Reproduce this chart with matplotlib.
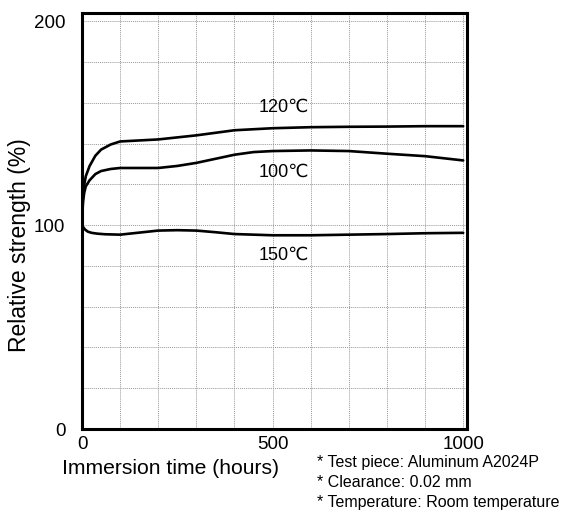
import matplotlib
matplotlib.use("Agg")
import matplotlib.pyplot as plt

plt.rcParams['font.family'] = ['Liberation Sans', 'DejaVu Sans']

# curves (hours, relative strength %)
t_120 = [0, 1, 3, 6, 10, 20, 35, 50, 75, 100, 150, 200, 300, 400, 500, 600, 700, 800, 900, 1000]
s_120 = [100, 108, 115, 120, 124, 129, 134, 137, 139.5, 141, 141.5, 142, 144, 146.5, 147.5,
         148, 148.2, 148.3, 148.5, 148.5]

t_100 = [0, 1, 3, 6, 10, 20, 35, 50, 75, 100, 150, 200, 250, 300, 350, 400, 450, 500,
         600, 700, 800, 900, 1000]
s_100 = [100, 106, 112, 116, 119, 122, 125, 126.5, 127.5, 128, 128, 128, 129, 130.5, 132.5,
         134.5, 135.8, 136.3, 136.6, 136.3, 135, 133.8, 131.7]

t_150 = [0, 3, 8, 15, 25, 40, 60, 100, 150, 200, 250, 300, 350, 400, 500, 600, 700, 800, 900, 1000]
s_150 = [100, 99, 97.8, 96.8, 96.2, 95.8, 95.5, 95.3, 96.3, 97.3, 97.5, 97.3, 96.5, 95.6,
         95, 95, 95.3, 95.6, 96, 96.2]

curve_labels = ["120\u2103", "100\u2103", "150\u2103"]
label_pos = [(530, 158), (530, 126), (530, 85)]

x_ticks = [0, 500, 1000]
y_ticks = [0, 100, 200]
notes = ["* Test piece: Aluminum A2024P",
         "* Clearance: 0.02 mm",
         "* Temperature: Room temperature"]

fig = plt.figure(figsize=(5.68, 5.13), dpi=100)
ax = fig.add_axes([82 / 568, 84 / 513, 385 / 568, 416 / 513])

for t, s in [(t_120, s_120), (t_100, s_100), (t_150, s_150)]:
    ax.plot(t, s, color='black', lw=1.9, solid_capstyle='round')

for lab, (x, y) in zip(curve_labels, label_pos):
    ax.text(x, y, lab, ha='center', va='center', fontsize=13)

ax.set_xlim(0, 1010)
ax.set_ylim(0, 204)
ax.set_xticks(range(0, 1001, 100), minor=True)
ax.set_yticks(range(0, 201, 20), minor=True)
ax.set_xticks(x_ticks)
ax.set_yticks(y_ticks)
ax.grid(which='both', color='#999999', ls=(0, (1, 1)), lw=0.7)
ax.tick_params(which='both', length=0, labelsize=13.5)
ax.tick_params(axis='x', pad=5)
ax.tick_params(axis='y', pad=12)
for sp in ax.spines.values():
    sp.set_linewidth(2.2)

fig.text(20 / 568, 1 - 245 / 513, "Relative strength (%)", rotation=90,
         ha='center', va='center', fontsize=16.5)
fig.text(170 / 568, 1 - 469 / 513, "Immersion time (hours)", ha='center', va='center',
         fontsize=15.2)
for i, n in enumerate(notes):
    fig.text(317 / 568, 1 - (463 + 19.5 * i) / 513, n, ha='left', va='center', fontsize=11.5)

fig.savefig("out.png", dpi=100)
